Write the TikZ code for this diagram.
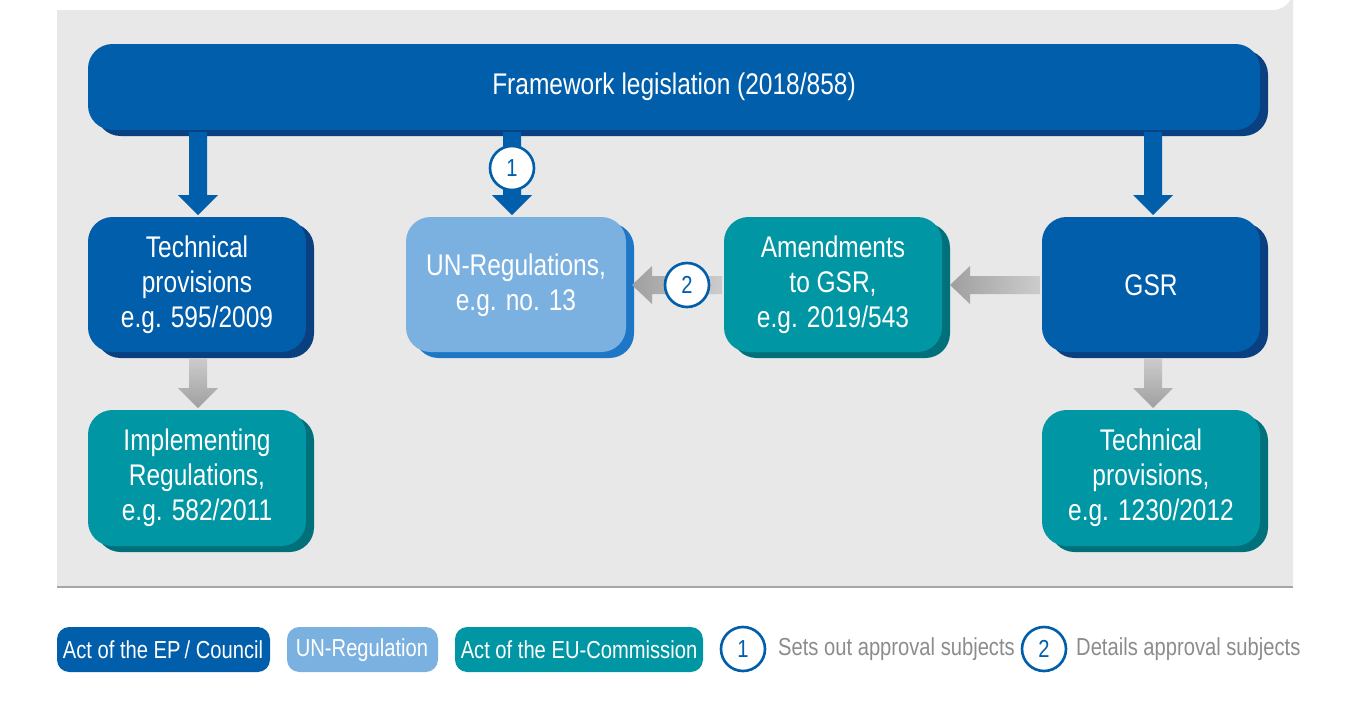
\documentclass[tikz,border=0pt]{standalone}
\usepackage{fontspec}
\setmainfont[FakeStretch=0.82]{Liberation Sans}
\definecolor{dblue}{HTML}{005EAA}\definecolor{dblueS}{HTML}{0A3F80}
\definecolor{lblue}{HTML}{7BB1E0}\definecolor{lblueS}{HTML}{1E77C6}
\definecolor{teal}{HTML}{0096A3}\definecolor{tealS}{HTML}{00717A}
\definecolor{panel}{HTML}{E8E8E8}\definecolor{ltxt}{HTML}{8C8C8C}
\begin{document}
\begin{tikzpicture}[x=0.02cm,y=-0.02cm,
 box/.style={rounded corners=14pt,inner sep=0,font=\fontsize{17}{20}\selectfont,text=white,align=center},
 circ/.style={circle,draw=dblue,line width=1.5pt,fill=white,minimum size=0.88cm,inner sep=0,text=dblue,font=\fontsize{14}{16}\selectfont},
 leg/.style={rounded corners=7pt,inner sep=0,text=white,font=\fontsize{14}{16}\selectfont},
 ltx/.style={anchor=west,text=ltxt,font=\fontsize{14}{16}\selectfont}]
\useasboundingbox (0,0) rectangle (1356,708);
\fill[panel] (57,587) -- (57,10) -- (1273,10) arc[start angle=90,end angle=0,radius=20] -- (1293,587) -- cycle;
\draw[gray!70,line width=0.8pt] (57,587) -- (1293,587);
% boxes
\newcommand\bx[6]{%
 \fill[#6,rounded corners=14pt] (#1+8,#2+6) rectangle (#3+8,#4+6);
 \fill[#5,rounded corners=14pt] (#1,#2) rectangle (#3,#4);}
\bx{88}{44}{1260}{130}{dblue}{dblueS}
\bx{88}{217}{306}{352}{dblue}{dblueS}
\bx{88}{410}{306}{546}{teal}{tealS}
\bx{406}{217}{626}{352}{lblue}{lblueS}
\bx{724}{217}{942}{352}{teal}{tealS}
\bx{1042}{217}{1260}{352}{dblue}{dblueS}
\bx{1042}{410}{1260}{546}{teal}{tealS}
\node[box] (fw) at (674,87) {Framework legislation (2018/858)};
\node[box] (tp) at (197,285) {Technical\\provisions\\e.g. 595/2009};
\node[box] (ir) at (197,478) {Implementing\\Regulations,\\e.g. 582/2011};
\node[box] (un) at (516,285) {UN-Regulations,\\e.g. no. 13};
\node[box] (am) at (833,285) {Amendments\\to GSR,\\e.g. 2019/543};
\node[box] (gsr) at (1151,285) {GSR};
\node[box] (tp2) at (1151,478) {Technical\\provisions,\\e.g. 1230/2012};
% blue arrows
\foreach \x in {198,512,1153}
 \fill[dblue] (\x-9,132) -- (\x+9,132) -- (\x+9,195) -- (\x+20,195) -- (\x,215) -- (\x-20,195) -- (\x-9,195) -- cycle;
% grey arrows
\foreach \x in {198,1153}
 \shade[top color=gray!40,bottom color=gray!75] (\x-9,358) -- (\x+9,358) -- (\x+9,388) -- (\x+20,388) -- (\x,408) -- (\x-20,388) -- (\x-9,388) -- cycle;
\shade[left color=gray!75,right color=gray!40] (1040,276) -- (970,276) -- (970,266) -- (950,285) -- (970,304) -- (970,294) -- (1040,294) -- cycle;
\shade[left color=gray!75,right color=gray!40] (722,276) -- (652,276) -- (652,266) -- (632,285) -- (652,304) -- (652,294) -- (722,294) -- cycle;
\node[circ] (c1) at (512,168) {1};
\node[circ] (c2) at (687,285) {2};
% legend
\fill[dblue,rounded corners=7pt] (57,627) rectangle (270,672);
\fill[lblue,rounded corners=7pt] (287,627) rectangle (438,672);
\fill[teal,rounded corners=7pt] (455,627) rectangle (703,672);
\node[leg] (l1) at (163,650) {Act of the EP\,/ Council};
\node[leg] (l2) at (362,650) {UN-Regulation};
\node[leg] (l3) at (579,650) {Act of the EU-Commission};
\node[circ] (lc1) at (743,649) {1};
\node[ltx] (lt1) at (772,649) {Sets out approval subjects};
\node[circ] (lc2) at (1044,649) {2};
\node[ltx] (lt2) at (1070,649) {Details approval subjects};
\end{tikzpicture}
\end{document}
